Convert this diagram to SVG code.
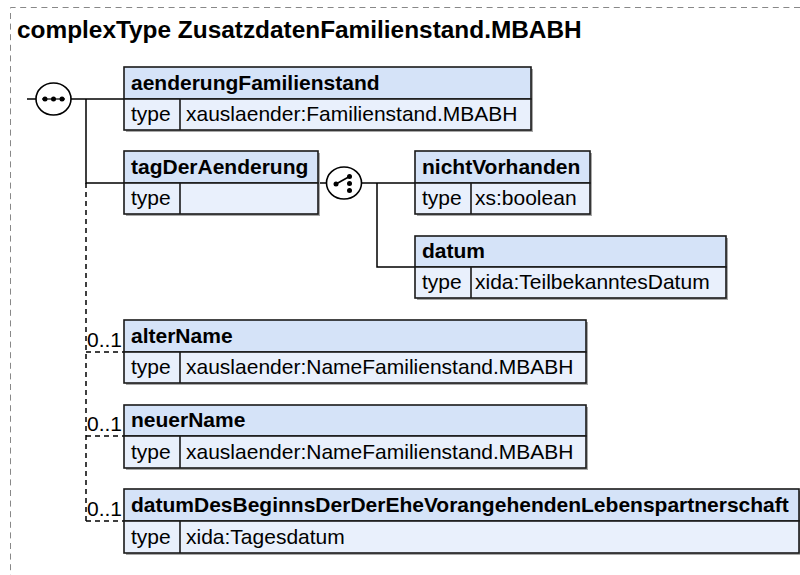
<svg xmlns="http://www.w3.org/2000/svg" width="800" height="575" viewBox="0 0 800 575">
<style>
.ttl{font-family:"Liberation Sans",Arial,sans-serif;font-weight:bold;font-size:24.4px;fill:#000}
.h{font-family:"Liberation Sans",Arial,sans-serif;font-weight:bold;font-size:21px;fill:#000}
.r{font-family:"Liberation Sans",Arial,sans-serif;font-size:21px;fill:#000}
.hd{fill:#D5E3F8;stroke:#1a1a1a;stroke-width:1.6}
.ty{fill:#E9F0FC;stroke:#1a1a1a;stroke-width:1.6}
.sh{fill:#a8a8a8}
.dv{stroke:#1a1a1a;stroke-width:1.6}
.c{stroke:#000;stroke-width:1.5;fill:none}
.d{stroke:#000;stroke-width:1.5;fill:none;stroke-dasharray:5 4}
.sym{fill:#fff;stroke:#000;stroke-width:1.6}
.dot{fill:#000}
</style>
<path d="M800 7.5H10.5V575" fill="none" stroke="#888" stroke-width="1" stroke-dasharray="6 4.6"/>
<text class="ttl" x="17" y="38">complexType ZusatzdatenFamilienstand.MBABH</text>

<g id="connectors">
<path class="c" d="M27 99H36"/>
<path class="c" d="M71 99H124"/>
<path class="c" d="M86 99V183H124"/>
<path class="d" d="M86 183V521"/>
<path class="d" d="M86 352H124"/>
<path class="d" d="M86 436H124"/>
<path class="d" d="M86 521H124"/>
<path class="c" d="M318 183H326.5"/>
<path class="c" d="M361.5 183H415"/>
<path class="c" d="M377 183V267H415"/>
</g>

<g id="sequence">
<ellipse class="sym" cx="53.5" cy="99" rx="17.5" ry="16"/>
<path d="M42 99H65" stroke="#000" stroke-width="1.2"/>
<circle class="dot" cx="45" cy="99" r="2.5"/>
<circle class="dot" cx="53.5" cy="99" r="2.5"/>
<circle class="dot" cx="62" cy="99" r="2.5"/>
</g>

<g id="choice">
<ellipse class="sym" cx="344" cy="183" rx="17.5" ry="16"/>
<path d="M336 184L349.5 176.5" stroke="#000" stroke-width="1.6"/>
<circle class="dot" cx="336" cy="184" r="2.5"/>
<circle class="dot" cx="349.5" cy="176.5" r="2.5"/>
<circle class="dot" cx="349.5" cy="183.5" r="2.5"/>
<circle class="dot" cx="349.5" cy="190.5" r="2.5"/>
</g>

<g id="aenderungFamilienstand">
<rect class="sh" x="126" y="69" width="407" height="63"/>
<rect class="hd" x="124" y="67" width="407" height="32"/>
<rect class="ty" x="124" y="99" width="407" height="31"/>
<line class="dv" x1="180" y1="99" x2="180" y2="130"/>
<text class="h" x="131" y="90">aenderungFamilienstand</text>
<text class="r" x="131" y="121">type</text>
<text class="r" x="186" y="121">xauslaender:Familienstand.MBABH</text>
</g>

<g id="tagDerAenderung">
<rect class="sh" x="126" y="153" width="194" height="63"/>
<rect class="hd" x="124" y="151" width="194" height="32"/>
<rect class="ty" x="124" y="183" width="194" height="31"/>
<line class="dv" x1="180" y1="183" x2="180" y2="214"/>
<text class="h" x="131" y="174">tagDerAenderung</text>
<text class="r" x="131" y="205">type</text>
</g>

<g id="nichtVorhanden">
<rect class="sh" x="417" y="153" width="175" height="63"/>
<rect class="hd" x="415" y="151" width="175" height="32"/>
<rect class="ty" x="415" y="183" width="175" height="31"/>
<line class="dv" x1="471" y1="183" x2="471" y2="214"/>
<text class="h" x="422" y="174">nichtVorhanden</text>
<text class="r" x="422" y="205">type</text>
<text class="r" x="475" y="205">xs:boolean</text>
</g>

<g id="datum">
<rect class="sh" x="417" y="238" width="311" height="62"/>
<rect class="hd" x="415" y="236" width="311" height="31"/>
<rect class="ty" x="415" y="267" width="311" height="31"/>
<line class="dv" x1="471" y1="267" x2="471" y2="298"/>
<text class="h" x="422" y="258">datum</text>
<text class="r" x="422" y="289">type</text>
<text class="r" x="475" y="289">xida:TeilbekanntesDatum</text>
</g>

<g id="alterName">
<rect class="sh" x="126" y="322" width="462" height="63"/>
<rect class="hd" x="124" y="320" width="462" height="32"/>
<rect class="ty" x="124" y="352" width="462" height="31"/>
<line class="dv" x1="180" y1="352" x2="180" y2="383"/>
<text class="h" x="131" y="343">alterName</text>
<text class="r" x="131" y="374">type</text>
<text class="r" x="186" y="374">xauslaender:NameFamilienstand.MBABH</text>
<text class="r" x="87" y="347" font-size="20">0..1</text>
</g>

<g id="neuerName">
<rect class="sh" x="126" y="407" width="462" height="63"/>
<rect class="hd" x="124" y="405" width="462" height="31"/>
<rect class="ty" x="124" y="436" width="462" height="32"/>
<line class="dv" x1="180" y1="436" x2="180" y2="468"/>
<text class="h" x="131" y="427">neuerName</text>
<text class="r" x="131" y="459">type</text>
<text class="r" x="186" y="459">xauslaender:NameFamilienstand.MBABH</text>
<text class="r" x="87" y="431" font-size="20">0..1</text>
</g>

<g id="datumDesBeginnsDerDerEheVorangehendenLebenspartnerschaft">
<rect class="sh" x="126" y="491" width="676" height="64"/>
<rect class="hd" x="124" y="489" width="675" height="32"/>
<rect class="ty" x="124" y="521" width="675" height="32"/>
<line class="dv" x1="180" y1="521" x2="180" y2="553"/>
<text class="h" x="131" y="512">datumDesBeginnsDerDerEheVorangehendenLebenspartnerschaft</text>
<text class="r" x="131" y="544">type</text>
<text class="r" x="186" y="544">xida:Tagesdatum</text>
<text class="r" x="87" y="516" font-size="20">0..1</text>
</g>
</svg>
